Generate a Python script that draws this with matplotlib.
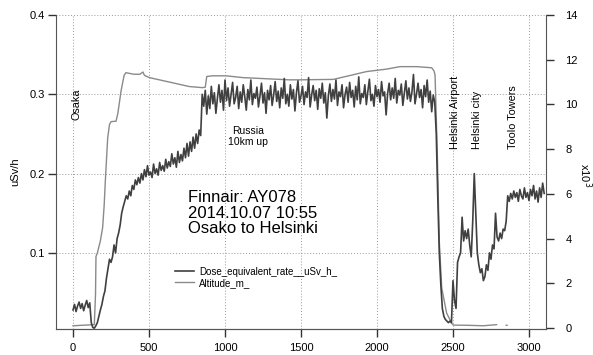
import numpy as np
import matplotlib
matplotlib.use("Agg")
import matplotlib.pyplot as plt

plt.rcParams['font.family'] = ['Liberation Sans', 'DejaVu Sans']

# dose rate, one sample every 10 time units starting at 0 (rows of 10 = 100 units)
dose = [
    0.028, 0.035, 0.026, 0.033, 0.038, 0.030, 0.036, 0.027, 0.034, 0.040,
    0.031, 0.037, 0.012, 0.006, 0.005, 0.008, 0.012, 0.020, 0.028, 0.035,
    0.045, 0.052, 0.068, 0.080, 0.092, 0.088, 0.095, 0.110, 0.100, 0.118,
    0.125, 0.135, 0.150, 0.158, 0.165, 0.172, 0.168, 0.178, 0.172, 0.185,
    0.180, 0.192, 0.186, 0.195, 0.188, 0.200, 0.192, 0.205, 0.196, 0.210,
    0.198, 0.202, 0.195, 0.212, 0.200, 0.206, 0.198, 0.214, 0.204, 0.210,
    0.203, 0.218, 0.207, 0.215, 0.209, 0.225, 0.212, 0.220, 0.208, 0.228,
    0.214, 0.224, 0.216, 0.232, 0.220, 0.238, 0.222, 0.240, 0.228, 0.246,
    0.232, 0.250, 0.238, 0.255, 0.248, 0.300, 0.285, 0.305, 0.275, 0.298,
    0.282, 0.310, 0.288, 0.302, 0.276, 0.295, 0.312, 0.290, 0.305, 0.280,
    0.318, 0.292, 0.308, 0.285, 0.300, 0.315, 0.288, 0.296, 0.310, 0.282,
    0.303, 0.290, 0.312, 0.297, 0.280, 0.306, 0.293, 0.318, 0.287, 0.301,
    0.295, 0.309, 0.284, 0.298, 0.314, 0.289, 0.302, 0.276, 0.305, 0.293,
    0.311, 0.286, 0.299, 0.316, 0.291, 0.304, 0.283, 0.308, 0.295, 0.320,
    0.288, 0.300, 0.285, 0.312, 0.294, 0.306, 0.279, 0.302, 0.317, 0.290,
    0.298, 0.310, 0.287, 0.303, 0.296, 0.321, 0.284, 0.299, 0.311, 0.292,
    0.305, 0.281, 0.307, 0.295, 0.314, 0.289, 0.302, 0.270, 0.298, 0.313,
    0.291, 0.306, 0.294, 0.318, 0.286, 0.303, 0.297, 0.312, 0.283, 0.300,
    0.309, 0.290, 0.315, 0.296, 0.305, 0.284, 0.310, 0.293, 0.322, 0.288,
    0.301, 0.296, 0.312, 0.287, 0.304, 0.319, 0.292, 0.300, 0.285, 0.311,
    0.297, 0.306, 0.290, 0.316, 0.298, 0.303, 0.274, 0.301, 0.314, 0.293,
    0.308, 0.295, 0.320, 0.289, 0.305, 0.299, 0.313, 0.286, 0.302, 0.317,
    0.294, 0.308, 0.291, 0.303, 0.325, 0.288, 0.300, 0.314, 0.296, 0.306,
    0.283, 0.311, 0.297, 0.318, 0.290, 0.304, 0.278, 0.299, 0.290, 0.250,
    0.170, 0.100, 0.060, 0.030, 0.020, 0.016, 0.014, 0.012, 0.014, 0.012,
    0.065, 0.040, 0.030, 0.088, 0.095, 0.100, 0.145, 0.115, 0.128, 0.118,
    0.130, 0.110, 0.095, 0.140, 0.200, 0.150, 0.100, 0.085, 0.075, 0.080,
    0.065, 0.070, 0.085, 0.078, 0.100, 0.092, 0.110, 0.105, 0.150, 0.120,
    0.115, 0.125, 0.118, 0.130, 0.128, 0.140, 0.172, 0.165, 0.175, 0.168,
    0.178, 0.170, 0.176, 0.165, 0.180, 0.172, 0.168, 0.182, 0.170, 0.176,
    0.166, 0.180, 0.172, 0.185, 0.168, 0.178, 0.164, 0.182, 0.170, 0.188,
    0.175,
]
dose_t = np.arange(len(dose)) * 10

# altitude (x10^3 m), nan = gap in the record
alt_t = [0, 140, 148, 151, 160, 180, 195, 205, 212, 228, 240, 250, 283, 295,
         316, 336, 348, 400, 440, 460, 470, 502, 634, 765, 853, 870, 880, 919,
         1007, 1116, 1421, 1493, 1713, 1932, 2063, 2151, 2261, 2360, 2375,
         2382, 2397, 2410, 2426, 2458, 2491, 2502, 2600, 2700, 2787, 2800,
         2850, 2856]
alt = [0.10, 0.15, 1.5, 3.2, 3.35, 3.9, 4.5, 5.5, 6.5, 8.5, 9.1, 9.23, 9.25, 9.6,
       10.6, 11.3, 11.42, 11.35, 11.35, 11.45, 11.3, 11.2, 11.0, 10.8, 10.75,
       10.77, 11.25, 11.28, 11.28, 11.2, 11.1, 11.1, 11.12, 11.47, 11.58, 11.69,
       11.69, 11.64, 11.5, 11.31, 7.74, 3.86, 1.79, 0.67, 0.22, 0.13, 0.12,
       0.10, 0.15, np.nan, 0.12, 0.12]

places = ["Osaka", "Helsinki Airport", "Helsinki city", "Toolo Towers"]
place_t = [20, 2513, 2655, 2895]
place_y = [0.267, 0.231, 0.231, 0.231]

fig = plt.figure(figsize=(5.93, 3.55), dpi=100)
ax = fig.add_axes([56/593, 1 - 329/355, 490/593, 314/355])
ax2 = ax.twinx()

l1, = ax.plot(dose_t, dose, color='#404040', lw=1.2)
l2, = ax2.plot(alt_t, alt, color='#8a8a8a', lw=1.0)

ax.set_xlim(-112, 3112)
ax.set_ylim(0.004, 0.4)
ax2.set_ylim(-0.045, 14)
ax.set_xticks([0, 500, 1000, 1500, 2000, 2500, 3000])
ax.set_yticks([0.1, 0.2, 0.3, 0.4])
ax2.set_yticks(range(0, 15, 2))

ax.grid(True, linestyle=(0, (1, 2)), color='#999999', lw=0.7)
for a in (ax, ax2):
    a.spines['top'].set_visible(False)
    for s in a.spines.values():
        s.set_color('#555555')
ax.spines['right'].set_visible(False)
ax2.spines['left'].set_visible(False)
ax.tick_params(axis='both', direction='out', length=6, width=1, labelsize=8,
               color='#333333')
ax.tick_params(axis='y', pad=2)
ax.tick_params(axis='x', pad=4)
ax2.tick_params(axis='y', direction='out', length=6, width=1, labelsize=8,
                pad=8, color='#333333')

ax.set_ylabel("uSv/h", fontsize=8, labelpad=7)
fig.text(585/593, 1 - 175/355, r"x10$^3$", fontsize=8, rotation=270,
         ha='center', va='center')

for name, t, y in zip(places, place_t, place_y):
    ax.text(t, y, name, rotation=90, ha='center', va='bottom', fontsize=7.8)
ax.text(1151, 0.247, "Russia\n10km up", ha='center', va='center', fontsize=7.5,
        linespacing=1.2)
ax.text(757, 0.150, "Finnair: AY078\n2014.10.07 10:55\nOsako to Helsinki",
        ha='left', va='center', fontsize=12, linespacing=1.05)

ax.legend([l1, l2], ["Dose_equivalent_rate__uSv_h_", "Altitude_m_"],
          loc='center left', bbox_to_anchor=(0.225, 0.165), frameon=False,
          fontsize=7, handlelength=2.0, labelspacing=0.1, handletextpad=0.5)
ax.set_zorder(ax2.get_zorder() + 1)
ax.patch.set_visible(False)

fig.savefig("out.png", dpi=100)
